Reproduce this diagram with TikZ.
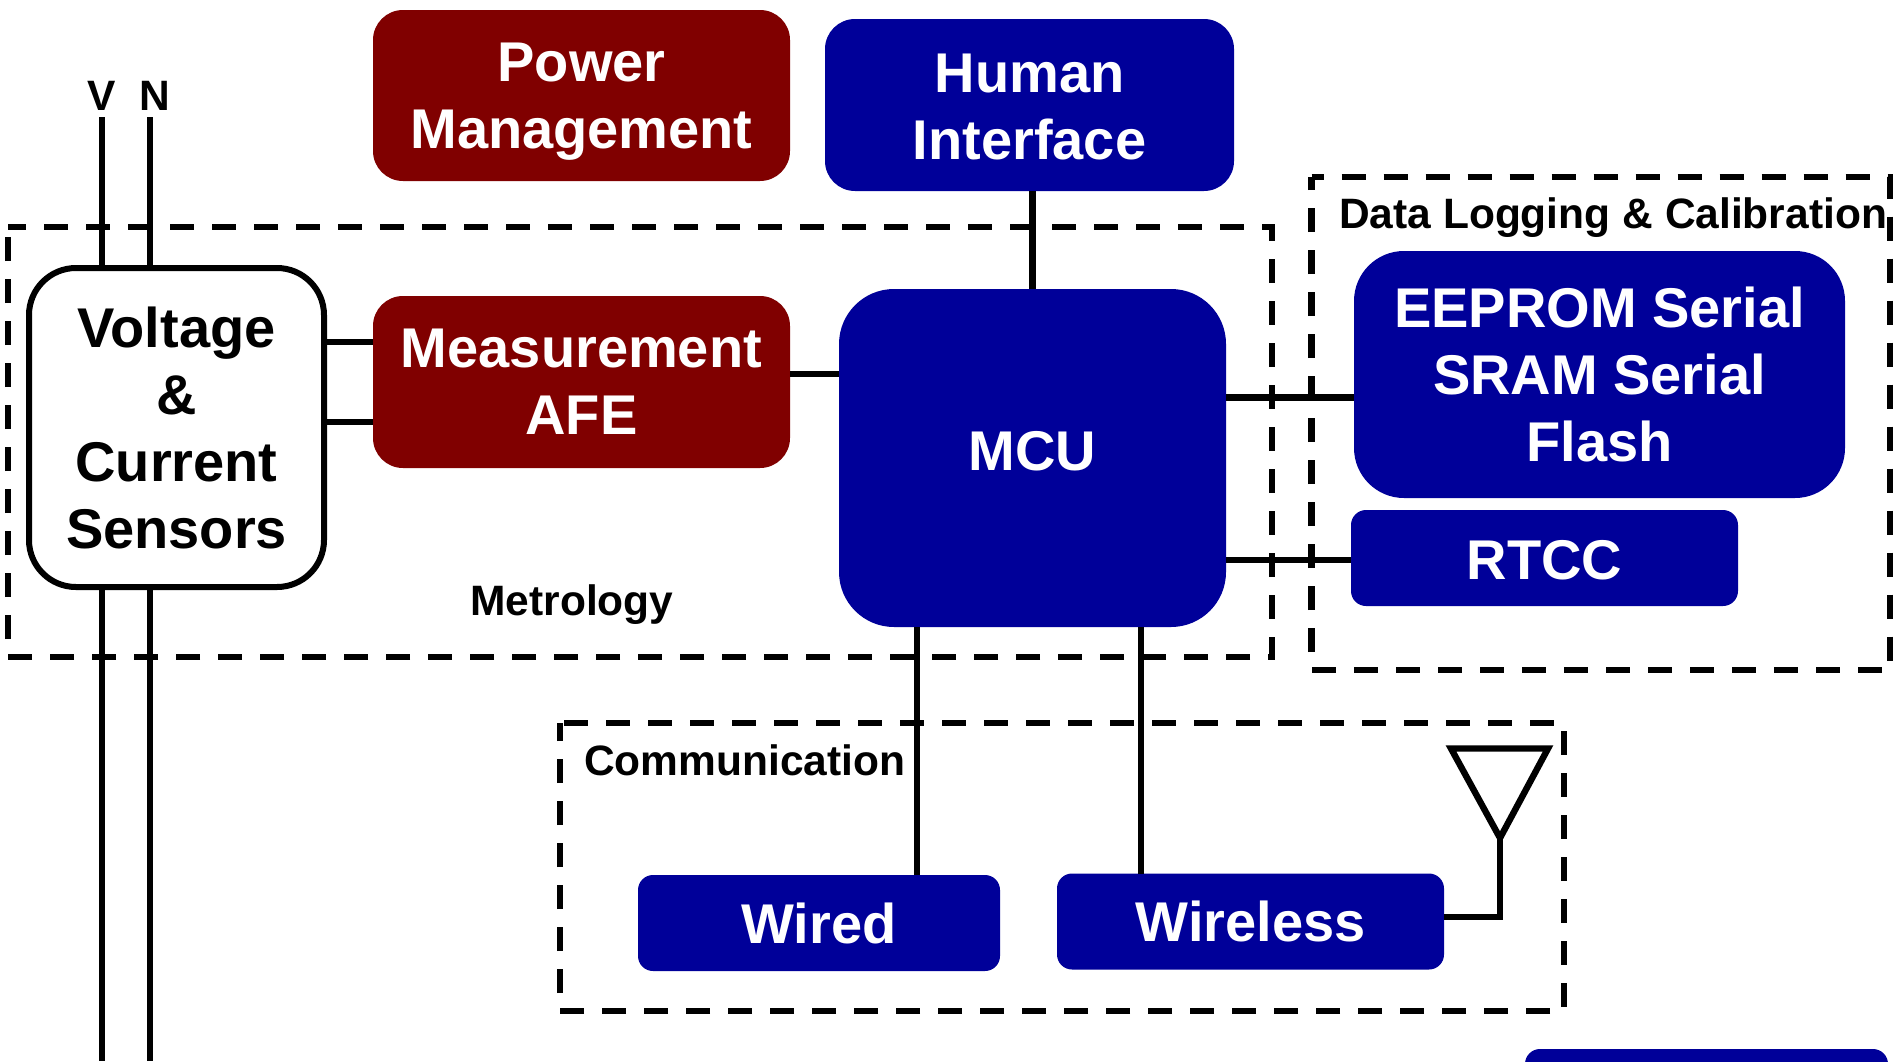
\documentclass[tikz,border=0pt]{standalone}
\usepackage{fontspec}
\setmainfont{Liberation Sans}
\definecolor{boxblue}{HTML}{000099}
\definecolor{boxred}{HTML}{800000}
\tikzset{
  block/.style={shape=rectangle,rounded corners=#1,inner sep=0pt,outer sep=0pt,align=center,text=white,
    font=\fontsize{56}{67}\selectfont\bfseries},
  blueblock/.style={block=#1,fill=boxblue},
  redblock/.style={block=30pt,fill=boxred},
  wire/.style={draw=black,line width=6.4pt},
  zone/.style={draw=black,line width=6.4pt,dash pattern=on 24pt off 18pt,dash phase=#1},
  caption/.style={inner sep=0pt,font=\fontsize{42.5}{50}\selectfont\bfseries}
}
\begin{document}
\begin{tikzpicture}[x=1pt,y=-1pt]
            \clip (0,0) rectangle (1895,1061);
            \path [fill=white] (0,0) rectangle (1895,1061);

            % dashed groups
            \draw [zone=6pt] (8,227) -- (1272,227) -- (1272,657) -- (8,657) -- cycle;
            \draw [zone=12pt] (1311.5,177) -- (1890,177) -- (1890,670) -- (1311.5,670) -- cycle;
            \draw [zone=38pt] (560,723) -- (1564,723) -- (1564,1011) -- (560,1011) -- cycle;

            \node[redblock,text depth=0pt,minimum width=417pt,minimum height=171pt] (pwr) at (581.5,95.5) {Power\\Management};
            \node[blueblock=30pt,text height=109.5pt,minimum width=409pt,minimum height=172pt] (hmi) at (1029.5,105) {Human\\Interface};
            \node[block=47pt,draw=black,line width=6pt,fill=white,text=black,minimum width=295pt,minimum height=319pt] (sensors) at (176.5,427.5) {Voltage\\\&\\Current\\Sensors};
            \node[redblock,minimum width=417pt,minimum height=172pt] (afe) at (581.5,382) {Measurement\\AFE};
            \node[blueblock=55pt,text depth=14pt,minimum width=387pt,minimum height=338pt] (mcu) at (1032.5,458) {MCU};
            \node[blueblock=50pt,minimum width=491pt,minimum height=247pt] (mem) at (1599.5,374.5) {EEPROM Serial\\SRAM Serial\\Flash};
            \node[blueblock=15pt,text height=43pt,minimum width=387pt,minimum height=96pt] (rtcc) at (1544.5,558) {RTCC};
            \node[blueblock=15pt,minimum width=362pt,minimum height=96pt] (wired) at (819,923) {Wired};
            \node[blueblock=15pt,minimum width=387pt,minimum height=96pt] (wireless) at (1250.5,921.5) {Wireless};
            \node[blueblock=15pt,minimum width=363pt,minimum height=60pt] (extra) at (1706.5,1079) {};

            \node[caption] (vlabel) at (102,96) {V};
            \node[caption] (nlabel) at (155,96) {N};
            \node[caption] (metro) at (572,605) {Metrology};
            \node[caption,anchor=west] (datalog) at (1339,218) {Data Logging \& Calibration};
            \node[caption,anchor=west] (comm) at (584,760) {Communication};

            \coordinate (vtop) at (102,117);
            \coordinate (ntop) at (150,117);
            \coordinate (vbot) at (102,1061);
            \coordinate (nbot) at (150,1061);
            \coordinate (ant1) at (1451,748.5);
            \coordinate (ant2) at (1548,748.5);
            \coordinate (ant3) at (1500,838);
            \coordinate (antfeed) at (1500,917);

            \path [wire] (vtop) -- (sensors.north -| vtop);
            \path [wire] (ntop) -- (sensors.north -| ntop);
            \path [wire] (sensors.south -| vbot) -- (vbot);
            \path [wire] (sensors.south -| nbot) -- (nbot);
            \path [wire] ([yshift=40pt]afe.west -| sensors.east) -- ([yshift=40pt]afe.west);
            \path [wire] ([yshift=-40pt]afe.west -| sensors.east) -- ([yshift=-40pt]afe.west);
            \path [wire] ([yshift=8pt]afe.east) -- ([yshift=8pt]afe.east -| mcu.west);
            \path [wire] (hmi.south -| mcu.north) -- (mcu.north);
            \path [wire] ([yshift=-23pt]mem.west -| mcu.east) -- ([yshift=-23pt]mem.west);
            \path [wire] ([yshift=-2pt]rtcc.west -| mcu.east) -- ([yshift=-2pt]rtcc.west);
            \path [wire] (mcu.south -| 917,0) -- (wired.north -| 917,0);
            \path [wire] (mcu.south -| 1141,0) -- (wireless.north -| 1141,0);
            \path [wire] (wireless.east |- antfeed) -- (antfeed) -- (ant3);
            \path [wire,line join=miter] (ant1) -- (ant2) -- (ant3) -- cycle;
        \end{tikzpicture}
\end{document}
